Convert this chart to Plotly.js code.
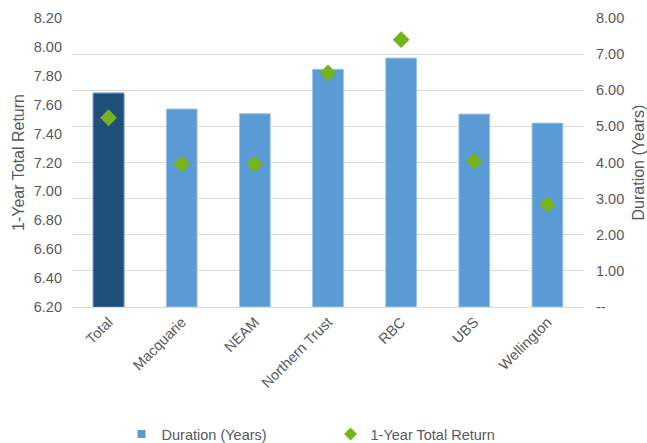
<!DOCTYPE html>
<html>
<head>
<meta charset="utf-8">
<script src="https://cdn.plot.ly/plotly-3.0.1.min.js"></script>
<style>html,body{margin:0;padding:0;background:#fff;}#chart{width:647px;height:443px;}</style>
</head>
<body>
<div id="chart"></div>
<script>
const categories = ["Total", "Macquarie", "NEAM", "Northern Trust", "RBC", "UBS", "Wellington"];
const durationYears = [5.92, 5.48, 5.35, 6.58, 6.89, 5.34, 5.09];
const totalReturn1Y = [7.51, 7.19, 7.19, 7.82, 8.05, 7.21, 6.91];
const returnTicks = [6.2, 6.4, 6.6, 6.8, 7.0, 7.2, 7.4, 7.6, 7.8, 8.0, 8.2];
const durationTicks = [0, 1, 2, 3, 4, 5, 6, 7, 8];
const durationTickText = ["--", "1.00", "2.00", "3.00", "4.00", "5.00", "6.00", "7.00", "8.00"];

const font = "Liberation Sans, Arial, sans-serif";
const grey = "#595959";
const lightBlue = "#5B9BD5";
const green = "#77B41B";

const traces = [
  {
    type: "bar", name: "Duration (Years)", x: categories, y: durationYears,
    yaxis: "y", marker: {color: lightBlue, line: {color: "#9DC3E6", width: 1}}, width: 0.42,
    showlegend: false, hoverinfo: "skip"
  },
  {
    type: "bar", name: "Total", x: [categories[0]], y: [durationYears[0]],
    yaxis: "y", marker: {color: "#1F4E79", line: {color: "#5B87B5", width: 1}}, width: 0.42,
    showlegend: false, hoverinfo: "skip"
  },
  {
    type: "scatter", mode: "markers", name: "1-Year Total Return", x: categories, y: totalReturn1Y,
    yaxis: "y2", marker: {symbol: "diamond", size: 13, color: green},
    showlegend: false, hoverinfo: "skip"
  },
  {
    type: "scatter", mode: "markers", name: "Duration (Years)", x: [null], y: [null],
    yaxis: "y", marker: {symbol: "square", size: 8, color: lightBlue}, hoverinfo: "skip"
  },
  {
    type: "scatter", mode: "markers", name: "1-Year Total Return", x: [null], y: [null],
    yaxis: "y2", marker: {symbol: "diamond", size: 10, color: green}, hoverinfo: "skip"
  }
];

const layout = {
  width: 647, height: 443,
  margin: {l: 72, r: 63, t: 17.5, b: 136.3, autoexpand: false},
  paper_bgcolor: "#fff", plot_bgcolor: "#fff",
  barmode: "overlay",
  font: {family: font, size: 14.5, color: grey},
  showlegend: true,
  legend: {orientation: "h", x: 0.505, xanchor: "center", yref: "container", y: 0.02, yanchor: "middle",
    font: {family: font, size: 14.5, color: grey}, entrywidth: 164, itemwidth: 30},
  xaxis: {
    type: "category", tickangle: -45, showgrid: false, zeroline: false, automargin: false,
    showline: true, linecolor: "#D9D9D9", linewidth: 1, ticks: "",
    tickfont: {family: font, size: 14.5, color: grey}
  },
  yaxis: {
    side: "right", range: [0, 8], tickvals: durationTicks, ticktext: durationTickText,
    showgrid: true, gridcolor: "#D9D9D9", gridwidth: 1, zeroline: false, automargin: false,
    ticks: "", ticklabelstandoff: 11,
    tickfont: {family: font, size: 14.5, color: grey},
    title: {text: "Duration (Years)", font: {family: font, size: 16, color: grey}, standoff: 10}
  },
  yaxis2: {
    overlaying: "y", side: "left", range: [6.2, 8.2], tickvals: returnTicks, tickformat: ".2f",
    showgrid: false, zeroline: false, ticks: "", automargin: false, ticklabelstandoff: 9,
    tickfont: {family: font, size: 14.5, color: grey},
    title: {text: "1-Year Total Return", font: {family: font, size: 16, color: grey}, standoff: 5}
  }
};

Plotly.newPlot("chart", traces, layout, {staticPlot: true, displayModeBar: false});
</script>
</body>
</html>
